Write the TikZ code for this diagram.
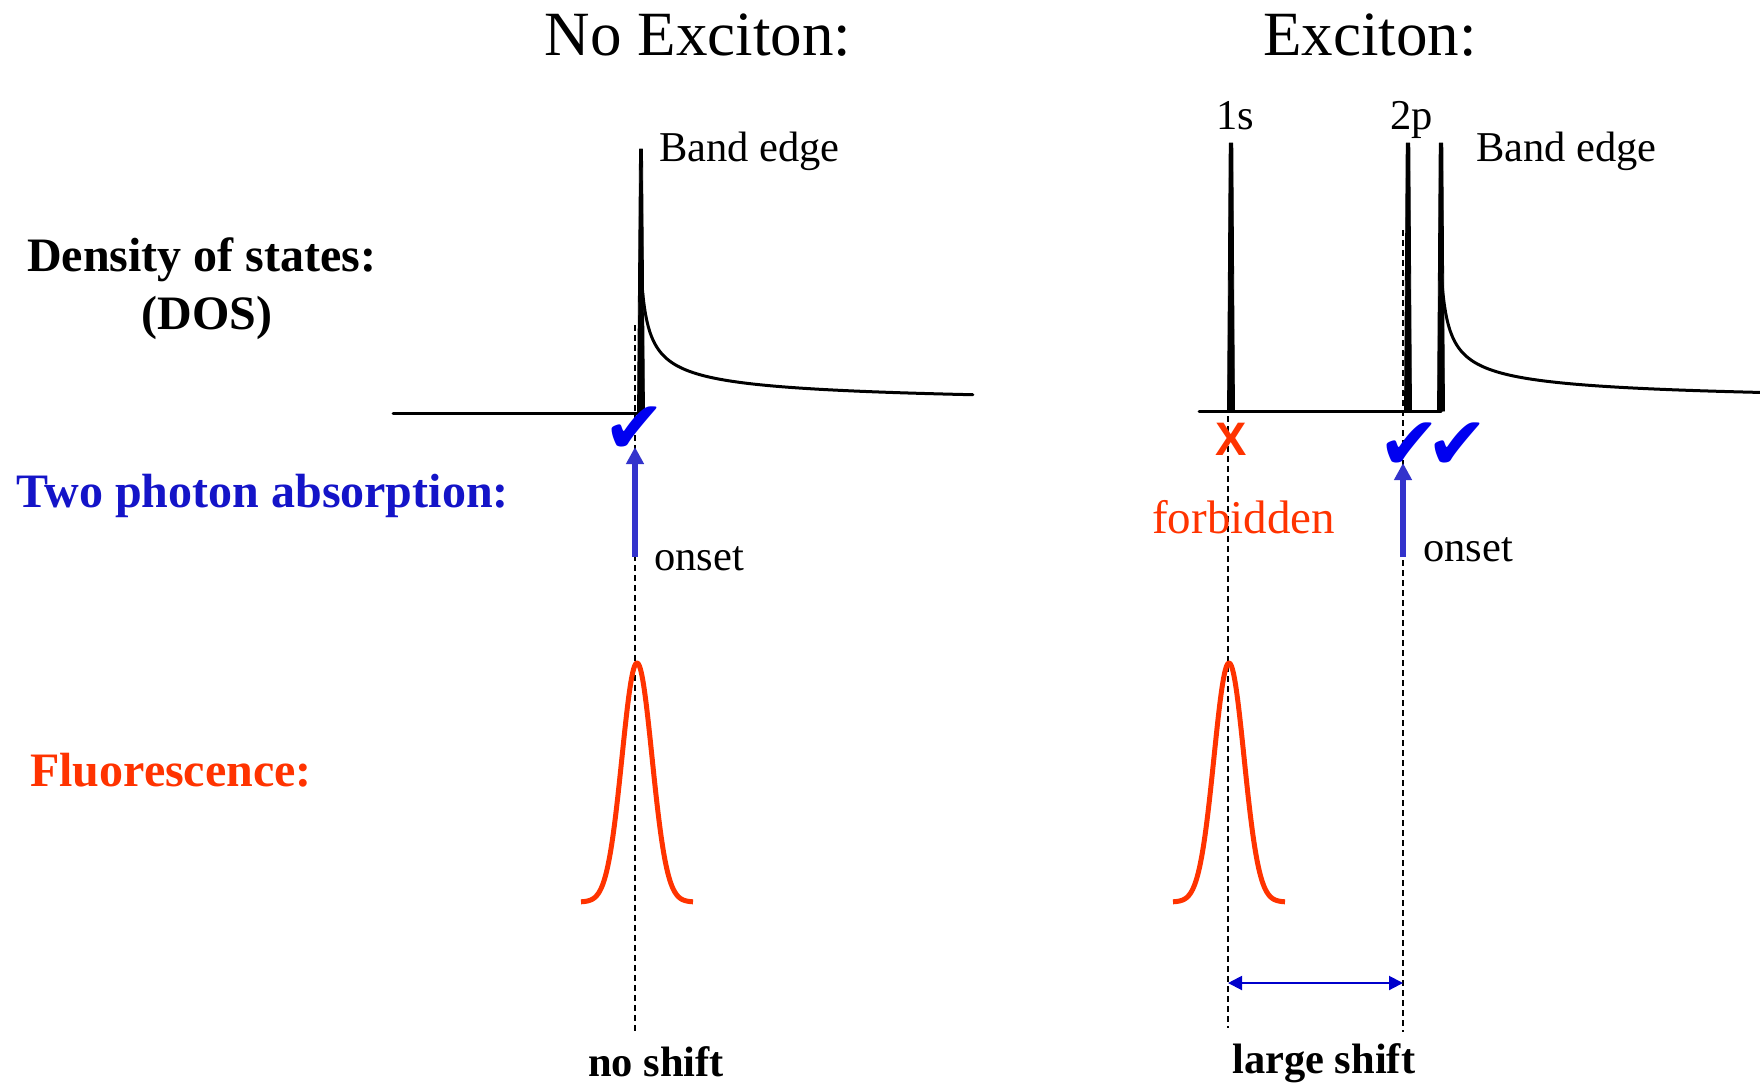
\documentclass[tikz,border=0pt]{standalone}
\usepackage{fontspec}
\setmainfont{Liberation Serif}
\newfontfamily\symfont{DejaVu Sans}
\newfontfamily\xfont{Liberation Sans}
\usetikzlibrary{arrows.meta}
\definecolor{tpblue}{RGB}{20,20,200}
\definecolor{arrblue}{RGB}{51,51,204}
\definecolor{chkblue}{RGB}{0,0,240}
\definecolor{flred}{RGB}{255,51,0}
\definecolor{dblblue}{RGB}{0,0,204}
\begin{document}
\begin{tikzpicture}[x=1pt,y=-1pt,
  dos/.style={line width=3pt, line join=round, line cap=round},
  spikefill/.style={fill=black, draw=black, line width=0.8pt, line join=round},
  guide/.style={line width=1.4pt, dash pattern=on 6pt off 4pt},
  onsetarrow/.style={line width=6pt, arrblue, -{Triangle[length=17pt,width=17pt]}},
  shiftarrow/.style={line width=2pt, dblblue, {Triangle[length=14pt,width=14pt]}-{Triangle[length=14pt,width=14pt]}},
  fluo/.style={line width=5pt, flred, line join=round},
  txt/.style={inner sep=0pt},
  title/.style={txt, font=\fontsize{63}{70}\selectfont},
  rowlabel/.style={txt, font=\fontsize{48}{56}\selectfont\bfseries},
  note/.style={txt, font=\fontsize{42.5}{50}\selectfont},
  shiftlabel/.style={txt, font=\fontsize{42.5}{50}\selectfont\bfseries},
  check/.style={txt, text=chkblue, font=\fontsize{74}{80}\selectfont\symfont},
  cross/.style={txt, text=flred, font=\fontsize{47}{50}\selectfont\xfont\bfseries},
]
\useasboundingbox (0,0) rectangle (1760,1085);

% ---- dashed guides
\coordinate (g1t) at (635,325); \coordinate (g1b) at (635,1032);
\coordinate (g2t) at (1228,416); \coordinate (g2b) at (1228,1028);
\coordinate (g3t) at (1403,230); \coordinate (g3b) at (1403,1032);
\draw[guide] (g1t) -- (g1b);
\draw[guide] (g2t) -- (g2b);
\draw[guide] (g3t) -- (g3b);

% ---- DOS without exciton
\coordinate (b1s) at (393,413); \coordinate (b1e) at (641,413);
\draw[dos] (b1s) -- (b1e);
\fill[spikefill] (637.5,413) -- (639.5,149) -- (642.5,149) -- (644.5,413) -- cycle;
\draw[dos] plot[domain=0:18.22, samples=160] ({641+(\x)*(\x)},{410-280/sqrt((\x)*(\x)+4)});

% ---- DOS with exciton
\coordinate (b2s) at (1199,411); \coordinate (b2e) at (1441,411);
\draw[dos] (b2s) -- (b2e);
\foreach \sx in {1231,1408,1441}{
  \fill[spikefill] (\sx-3.5,411) -- (\sx-1.8,143) -- (\sx+1.8,143) -- (\sx+3.5,411) -- cycle;
}
\draw[dos] plot[domain=0:17.86, samples=160] ({1441+(\x)*(\x)},{408-280/sqrt((\x)*(\x)+4)});

% ---- fluorescence peaks
\draw[fluo] plot[domain=-56:56, samples=120] ({637+\x},{902-239*exp(-((\x)*(\x))/450)});
\draw[fluo] plot[domain=-56:56, samples=120] ({1229+\x},{902-239*exp(-((\x)*(\x))/450)});

% ---- onset arrows
\coordinate (a1s) at (635,557); \coordinate (a1e) at (635,447);
\coordinate (a2s) at (1403,557); \coordinate (a2e) at (1403,463);
\draw[onsetarrow] (a1s) -- (a1e);
\draw[onsetarrow] (a2s) -- (a2e);

% ---- shift arrow
\coordinate (s1) at (1228,983); \coordinate (s2) at (1403,983);
\draw[shiftarrow] (s1) -- (s2);

% ---- marks
\node[check] (c1) at (634,430) {✔};
\node[check] (c2) at (1409,446) {✔};
\node[check] (c3) at (1457,446) {✔};
\node[cross] (x1) at (1231,439) {X};

% ---- texts
\node[title, anchor=base] (t1) at (698,55) {No Exciton:};
\node[title, anchor=base] (t2) at (1370,55) {Exciton:};
\node[rowlabel, anchor=base west] (dos) at (27,271) {Density of states:};
\node[rowlabel, anchor=base] (dosabbr) at (207,329) {(DOS)};
\node[rowlabel, anchor=base west, text=tpblue] (tpa) at (16,507) {Two photon absorption:};
\node[rowlabel, anchor=base west, text=flred] (fl) at (30,786) {Fluorescence:};
\node[note, anchor=base west] (be1) at (659,161) {Band edge};
\node[note, anchor=base west] (be2) at (1476,161) {Band edge};
\node[note, anchor=base] (l1s) at (1235,129) {1s};
\node[note, anchor=base west] (l2p) at (1390,129) {2p};
\node[note, anchor=base west] (on1) at (654,570) {onset};
\node[note, anchor=base west] (on2) at (1423,561) {onset};
\node[txt, anchor=base west, text=flred, font=\fontsize{47}{50}\selectfont] (forb) at (1152,533) {forbidden};
\node[shiftlabel, anchor=base west] (ns) at (588,1076) {no shift};
\node[shiftlabel, anchor=base west] (ls) at (1232,1073) {large shift};
\end{tikzpicture}
\end{document}
